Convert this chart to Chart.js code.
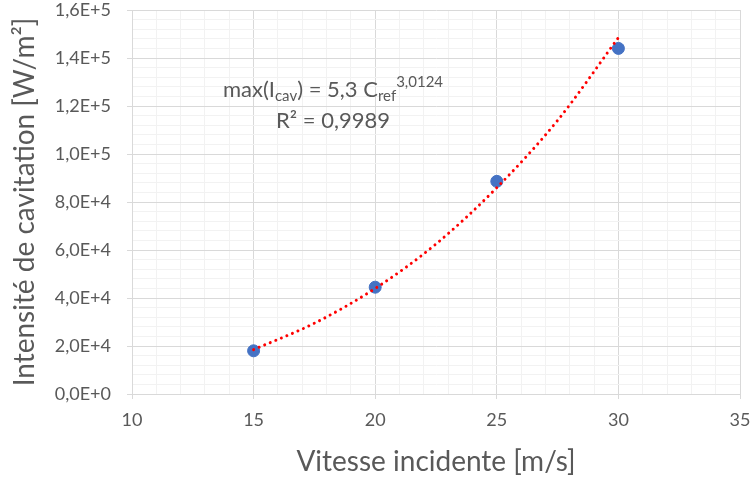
<!DOCTYPE html>
<html lang="fr">
<head>
  <meta charset="UTF-8" />
  <title>Intensité de cavitation</title>
  <script src="https://cdn.jsdelivr.net/npm/chart.js"></script>
  <style>
    html, body { margin: 0; padding: 0; background: #fff; }
    #wrap { width: 750px; height: 483px; }
  </style>
</head>
<body>
  <div id="wrap"><canvas id="chart" width="750" height="483"></canvas></div>

  <script>
    // mesures
    const vitesse = [15, 20, 25, 30];
    const intensite = [18000, 44500, 88600, 144000];

    // courbe de tendance (puissance), relevée le long du tracé
    const trendX = [15, 17.5, 20, 22.5, 25, 27.5, 30];
    const trendY = [18500, 29500, 44000, 62500, 86000, 114000, 148500];

    const xTicks = [10, 15, 20, 25, 30, 35];
    const yTicks = [0, 20000, 40000, 60000, 80000, 100000, 120000, 140000, 160000];

    const FONT = "Lato, 'Open Sans', sans-serif";
    const GREY = "#595959";

    function sci(v) {
      if (v === 0) return "0,0E+0";
      const e = Math.floor(Math.log10(v) + 1e-9);
      const m = (v / Math.pow(10, e)).toFixed(1).replace(".", ",");
      return m + "E+" + e;
    }

    // equation de la tendance, écrite avec indices et exposant
    const equation = {
      id: "equation",
      afterDraw(chart) {
        const ctx = chart.ctx;
        const big = "22px " + FONT, small = "15px " + FONT;
        const parts = [
          { t: "max(I", f: big, dy: 0 },
          { t: "cav", f: small, dy: 4 },
          { t: ") = 5,3 C", f: big, dy: 0 },
          { t: "ref", f: small, dy: 4 },
          { t: "3,0124", f: small, dy: -10 }
        ];
        ctx.save();
        ctx.fillStyle = GREY;
        ctx.textBaseline = "alphabetic";
        ctx.textAlign = "left";
        let w = 0;
        parts.forEach(p => { ctx.font = p.f; p.w = ctx.measureText(p.t).width; w += p.w; });
        const cx = 333;
        let x = cx - w / 2;
        const base = 97;
        parts.forEach(p => {
          ctx.font = p.f;
          ctx.fillText(p.t, x, base + p.dy);
          x += p.w;
        });
        ctx.font = big;
        ctx.textAlign = "center";
        ctx.fillText("R² = 0,9989", cx, 128);
        ctx.restore();
      }
    };

    const ctx = document.getElementById("chart").getContext("2d");
    new Chart(ctx, {
      type: "scatter",
      data: {
        datasets: [
          {
            label: "Mesures",
            data: vitesse.map((v, i) => ({ x: v, y: intensite[i] })),
            backgroundColor: "#4472C4",
            borderColor: "#4472C4",
            pointRadius: 6,
            order: 2
          },
          {
            label: "Tendance",
            data: trendX.map((v, i) => ({ x: v, y: trendY[i] })),
            showLine: true,
            borderColor: "#FF0000",
            borderWidth: 3,
            borderDash: [0.01, 6],
            borderCapStyle: "round",
            cubicInterpolationMode: "monotone",
            pointRadius: 0,
            order: 1
          }
        ]
      },
      options: {
        responsive: false,
        animation: false,
        layout: { padding: { top: 10, right: 10, left: 0, bottom: 0 } },
        plugins: { legend: { display: false }, tooltip: { enabled: false } },
        scales: {
          x: {
            type: "linear",
            min: 10, max: 35,
            afterFit: s => { s.height = 89; s.paddingRight = 0; s.paddingLeft = 0; },
            border: { color: "#d9d9d9", width: 1 },
            grid: {
              color: c => (c.tick && c.tick.value % 5 === 0) ? "#d9d9d9" : "#f2f2f2",
              tickColor: c => (c.tick && c.tick.value % 5 === 0) ? "#d9d9d9" : "rgba(0,0,0,0)",
              tickLength: 5,
              lineWidth: 1
            },
            ticks: {
              stepSize: 1,
              autoSkip: false,
              maxRotation: 0,
              padding: 10,
              color: GREY,
              font: { family: FONT, size: 18 },
              callback: v => xTicks.includes(v) ? String(v) : ""
            },
            title: {
              display: true,
              text: "Vitesse incidente [m/s]",
              color: GREY,
              font: { family: FONT, size: 28 },
              padding: { top: 0, bottom: 4 }
            }
          },
          y: {
            type: "linear",
            min: 0, max: 160000,
            afterFit: s => { s.width = 132; s.paddingTop = 0; s.paddingBottom = 0; },
            border: { color: "#d9d9d9", width: 1 },
            grid: {
              color: c => (c.tick && c.tick.value % 20000 === 0) ? "#d9d9d9" : "#f2f2f2",
              tickColor: c => (c.tick && c.tick.value % 20000 === 0) ? "#d9d9d9" : "rgba(0,0,0,0)",
              tickLength: 5,
              lineWidth: 1
            },
            ticks: {
              stepSize: 4000,
              autoSkip: false,
              padding: 16,
              color: GREY,
              font: { family: FONT, size: 18 },
              callback: v => yTicks.includes(v) ? sci(v) : ""
            },
            title: {
              display: true,
              text: "Intensité de cavitation [W/m²]",
              color: GREY,
              font: { family: FONT, size: 28 },
              padding: { top: 8, bottom: 0 }
            }
          }
        }
      },
      plugins: [equation]
    });
  </script>
</body>
</html>
